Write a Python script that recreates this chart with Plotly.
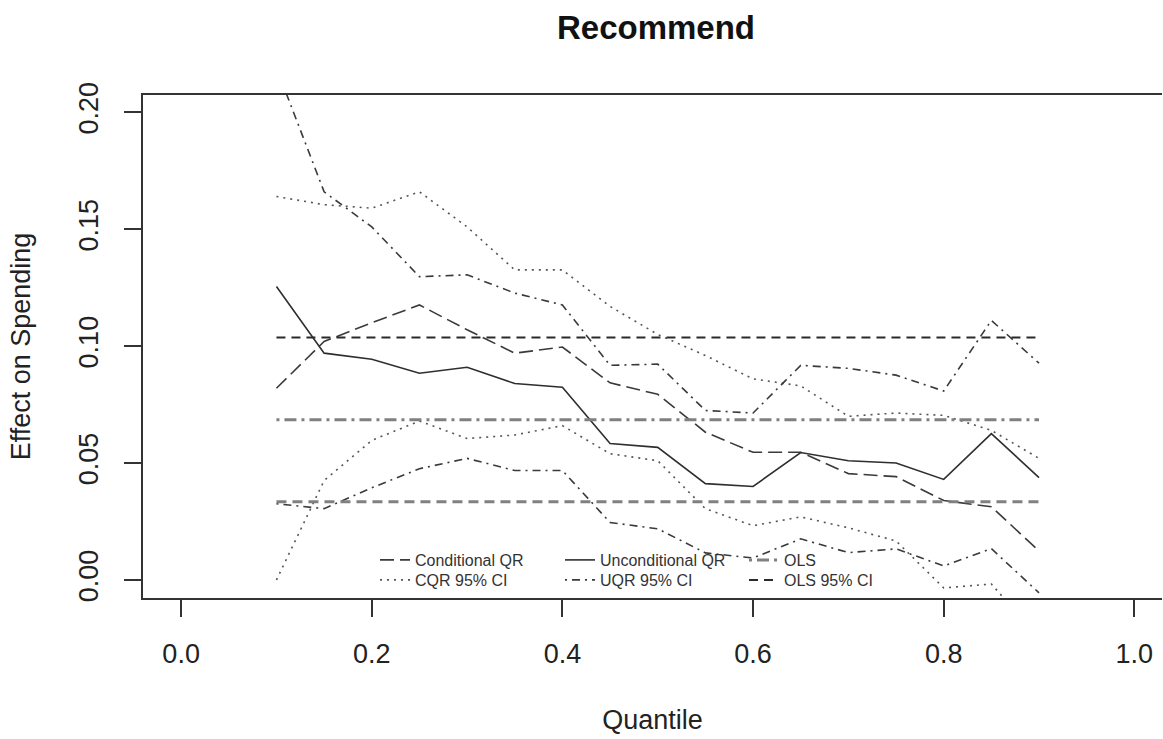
import plotly.graph_objects as go

# ---- data ----
quantiles = [0.10, 0.15, 0.20, 0.25, 0.30, 0.35, 0.40, 0.45, 0.50,
             0.55, 0.60, 0.65, 0.70, 0.75, 0.80, 0.85, 0.90]

cond_qr = [0.082, 0.102, 0.110, 0.1176, 0.107, 0.097, 0.0996, 0.0843, 0.0794,
           0.0632, 0.0546, 0.0546, 0.0455, 0.0442, 0.034, 0.0313, 0.0124]
cqr_hi = [0.164, 0.1605, 0.159, 0.166, 0.151, 0.1326, 0.1326, 0.117, 0.105,
          0.096, 0.086, 0.083, 0.070, 0.0714, 0.0704, 0.064, 0.052]
cqr_lo = [0.000, 0.0425, 0.0597, 0.068, 0.0605, 0.062, 0.066, 0.054, 0.051,
          0.0305, 0.0232, 0.027, 0.0223, 0.0167, -0.0034, -0.0017, -0.025]

uncond_qr = [0.1255, 0.097, 0.0944, 0.0884, 0.091, 0.084, 0.0824, 0.0584, 0.0567,
             0.0412, 0.040, 0.0545, 0.051, 0.050, 0.043, 0.0626, 0.0438]
uqr_hi = [0.219, 0.166, 0.151, 0.1297, 0.1305, 0.1227, 0.1176, 0.0918, 0.0923,
          0.0725, 0.0714, 0.0918, 0.0905, 0.0876, 0.0808, 0.111, 0.0927]
uqr_lo = [0.0326, 0.0305, 0.0394, 0.0476, 0.052, 0.0468, 0.0468, 0.0246, 0.0219,
          0.0116, 0.0094, 0.0176, 0.0117, 0.0133, 0.006, 0.0134, -0.0055]

ols_est = 0.0685
ols_hi = 0.1037
ols_lo = 0.0335

x_ticks = [0.0, 0.2, 0.4, 0.6, 0.8, 1.0]
x_ticktext = ["0.0", "0.2", "0.4", "0.6", "0.8", "1.0"]
y_ticks = [0.00, 0.05, 0.10, 0.15, 0.20]
y_ticktext = ["0.00", "0.05", "0.10", "0.15", "0.20"]

FONT = "Liberation Sans, Arial, Helvetica, sans-serif"
ols_x = [quantiles[0], quantiles[-1]]

fig = go.Figure()

# legend column 1
fig.add_trace(go.Scatter(x=quantiles, y=cond_qr, mode="lines", name="Conditional QR",
                         line=dict(color="#3a3a3a", width=1.6, dash="14px,6px"),
                         legend="legend"))
fig.add_trace(go.Scatter(x=quantiles, y=cqr_hi, mode="lines", name="CQR 95% CI",
                         legendgroup="cqrci",
                         line=dict(color="#555555", width=1.6, dash="2px,5px"),
                         legend="legend2"))
fig.add_trace(go.Scatter(x=quantiles, y=cqr_lo, mode="lines", name="CQR 95% CI",
                         legendgroup="cqrci", showlegend=False,
                         line=dict(color="#555555", width=1.6, dash="2px,5px"),
                         legend="legend2"))

# legend column 2
fig.add_trace(go.Scatter(x=quantiles, y=uncond_qr, mode="lines", name="Unconditional QR",
                         line=dict(color="#2e2e2e", width=1.6),
                         legend="legend3"))
fig.add_trace(go.Scatter(x=quantiles, y=uqr_hi, mode="lines", name="UQR 95% CI",
                         legendgroup="uqrci",
                         line=dict(color="#3a3a3a", width=1.6, dash="2px,5px,8px,5px"),
                         legend="legend4"))
fig.add_trace(go.Scatter(x=quantiles, y=uqr_lo, mode="lines", name="UQR 95% CI",
                         legendgroup="uqrci", showlegend=False,
                         line=dict(color="#3a3a3a", width=1.6, dash="2px,5px,8px,5px"),
                         legend="legend4"))

# legend column 3
fig.add_trace(go.Scatter(x=ols_x, y=[ols_est, ols_est], mode="lines", name="OLS",
                         line=dict(color="#808080", width=3, dash="3px,5px,12px,5px"),
                         legend="legend5"))
fig.add_trace(go.Scatter(x=ols_x, y=[ols_hi, ols_hi], mode="lines", name="OLS 95% CI",
                         legendgroup="olsci",
                         line=dict(color="#2a2a2a", width=2, dash="9px,6px"),
                         legend="legend6"))
fig.add_trace(go.Scatter(x=ols_x, y=[ols_lo, ols_lo], mode="lines", name="OLS 95% CI",
                         legendgroup="olsci", showlegend=False,
                         line=dict(color="#808080", width=3, dash="10px,6px"),
                         legend="legend6"))

L, R, T, B = 143, 1, 95, 141
W, H = 1163, 739
pw = W - L - R
ph = H - T - B


def px_x(p):
    return (p - L) / pw


def px_y(p):
    return (H - B - p) / ph


legend_common = dict(xanchor="left", yanchor="top", bgcolor="rgba(0,0,0,0)",
                     font=dict(family=FONT, size=16, color="#333333"),
                     itemwidth=30, tracegroupgap=0, borderwidth=0)

col_x = [375, 560, 744]
row_y = [543, 563]

fig.update_layout(
    width=W, height=H,
    margin=dict(l=L, r=R, t=T, b=B, autoexpand=False),
    paper_bgcolor="white", plot_bgcolor="white",
    font=dict(family=FONT, color="#222222"),
    title=dict(text="<b>Recommend</b>", x=px_x(656), xref="paper", xanchor="center",
               y=1 - 27 / H, yref="container", yanchor="middle",
               font=dict(family=FONT, size=33, color="#111111")),
    showlegend=True,
    legend=dict(x=px_x(col_x[0]), y=px_y(row_y[0]), **legend_common),
    legend2=dict(x=px_x(col_x[0]), y=px_y(row_y[1]), **legend_common),
    legend3=dict(x=px_x(col_x[1]), y=px_y(row_y[0]), **legend_common),
    legend4=dict(x=px_x(col_x[1]), y=px_y(row_y[1]), **legend_common),
    legend5=dict(x=px_x(col_x[2]), y=px_y(row_y[0]), **legend_common),
    legend6=dict(x=px_x(col_x[2]), y=px_y(row_y[1]), **legend_common),
    xaxis=dict(range=[-0.04, 1.029], tickvals=x_ticks, ticktext=x_ticktext,
               showgrid=False, zeroline=False, showline=True, mirror=True,
               linecolor="#333333", linewidth=2,
               ticks="outside", ticklen=17, tickwidth=2, tickcolor="#333333",
               ticklabelstandoff=14,
               tickfont=dict(family=FONT, size=27, color="#222222"),
               title=dict(text="Quantile", standoff=42,
                          font=dict(family=FONT, size=27, color="#222222"))),
    yaxis=dict(range=[-0.0077, 0.2074], tickvals=y_ticks, ticktext=y_ticktext,
               showgrid=False, zeroline=False, showline=True, mirror=False,
               linecolor="#333333", linewidth=2,
               ticks="outside", ticklen=17, tickwidth=2, tickcolor="#333333",
               tickangle=-90, ticklabelstandoff=15,
               tickfont=dict(family=FONT, size=27, color="#222222"),
               title=dict(text="Effect on Spending", standoff=36,
                          font=dict(family=FONT, size=27, color="#222222"))),
)

fig.write_html("out.html",
               config={"displayModeBar": False},
               post_script="document.body.style.margin='0';document.body.style.overflow='hidden';")
